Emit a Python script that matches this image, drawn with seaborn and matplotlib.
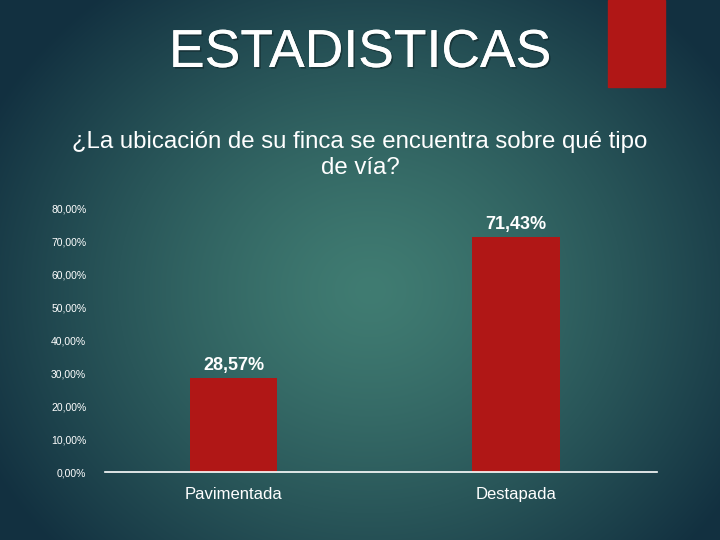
import numpy as np
import pandas as pd
import matplotlib
matplotlib.use("Agg")
import matplotlib.pyplot as plt
import matplotlib.patheffects as pe
from matplotlib.patches import Rectangle
from matplotlib.ticker import FuncFormatter
import seaborn as sns

# Data
categories = ["Pavimentada", "Destapada"]
values = [0.2857, 0.7143]
value_labels = ["28,57%", "71,43%"]
y_ticks = [0.0, 0.1, 0.2, 0.3, 0.4, 0.5, 0.6, 0.7, 0.8]

title = "ESTADISTICAS"
subtitle = "¿La ubicación de su finca se encuentra sobre qué tipo\nde vía?"

sns.set_theme(style="white")
plt.rcParams["font.family"] = ["Liberation Sans", "DejaVu Sans"]

fig = plt.figure(figsize=(7.2, 5.4), dpi=100)

# Background radial gradient
bg = fig.add_axes([0, 0, 1, 1], zorder=-10)
H, W = 540, 720
yy, xx = np.mgrid[0:H, 0:W]
cx, cy = 370, 290
d = np.sqrt(((xx - cx) / 430.0) ** 2 + ((yy - cy) / 380.0) ** 2)
t = np.clip(d, 0, 1) ** 1.3
c_center = np.array([64, 124, 114]) / 255.0
c_edge = np.array([18, 48, 64]) / 255.0
img = c_center[None, None, :] * (1 - t[..., None]) + c_edge[None, None, :] * t[..., None]
bg.imshow(img, aspect="auto", extent=[0, 1, 0, 1], origin="upper")
bg.set_axis_off()

# Decorative red rectangle
fig.patches.append(Rectangle((608 / 720, 1 - 87 / 540), 57 / 720, 87 / 540,
                             transform=fig.transFigure, color="#b01716", zorder=5))

shadow = [pe.withSimplePatchShadow(offset=(1.2, -1.2), shadow_rgbFace="black", alpha=0.3), pe.Normal()]

fig.text(0.5, 1 - 53 / 540, title, ha="center", va="center", color="white",
         fontsize=38.5, path_effects=shadow)
fig.text(0.5, 1 - 155 / 540, subtitle, ha="center", va="center", color="white",
         fontsize=17.3, linespacing=1.2)

# Chart
ax = fig.add_axes([105 / 720, 68 / 540, 552 / 720, 263 / 540])
ax.set_facecolor("none")
df = pd.DataFrame({"cat": categories, "val": values})
sns.barplot(data=df, x="cat", y="val", color="#b01716", width=0.31, ax=ax,
            saturation=1, order=categories, linewidth=0, edgecolor="none")
ax.set_xlim(-0.455, 1.5)
ax.set_ylim(0, 0.8)
ax.set_yticks(y_ticks)
ax.yaxis.set_major_formatter(FuncFormatter(lambda v, p: f"{v*100:.2f}%".replace(".", ",")))
ax.tick_params(axis="y", colors="white", labelsize=7.5, length=0, pad=13.5)
ax.tick_params(axis="x", colors="white", labelsize=12, length=0, pad=11)
ax.set_xlabel("")
ax.set_ylabel("")
for s in ["top", "right", "left"]:
    ax.spines[s].set_visible(False)
ax.spines["bottom"].set_color("white")
ax.spines["bottom"].set_linewidth(1.2)

for i, (v, lab) in enumerate(zip(values, value_labels)):
    ax.annotate(lab, (i, v), xytext=(0, 3), textcoords="offset points",
                ha="center", va="bottom", color="white", fontsize=13,
                fontweight="bold")

fig.savefig("out.png", dpi=100)
